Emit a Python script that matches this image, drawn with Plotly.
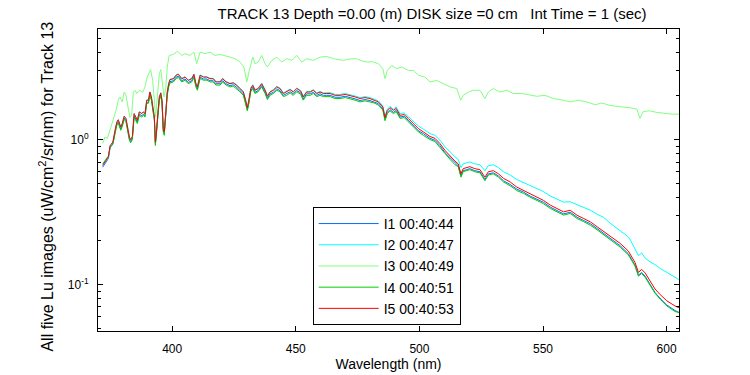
import plotly.graph_objects as go
import numpy as np

# Wavelength grid (nm) for I1, I2, I4, I5
wavelength = [371.9, 372.8, 374.2, 374.9, 376.0, 376.9, 377.6, 378.2, 379.2, 379.8,
              380.6, 381.3, 382.0, 382.7, 383.2, 383.9, 384.6, 385.4, 385.9, 386.7,
              387.7, 388.3, 389.0, 389.7, 390.4, 391.0, 391.6, 392.1, 392.8, 393.2,
              393.6, 394.2, 394.8, 395.4, 395.9, 396.4, 396.8, 397.5, 398.0, 398.6,
              399.1, 400.5, 401.6, 402.5, 403.9, 405.2, 406.5, 407.9, 408.8, 409.6,
              410.2, 411.3, 412.6, 414.0, 415.3, 416.6, 417.7, 419.4, 420.4, 421.8,
              423.4, 424.7, 426.1, 427.4, 428.8, 429.7, 430.4, 430.9, 431.8, 432.6,
              433.5, 434.8, 436.2, 437.6, 438.5, 439.6, 440.9, 442.3, 443.6, 445.0,
              446.3, 447.7, 449.0, 450.4, 452.0, 453.0, 454.4, 455.8, 457.1, 458.5,
              459.8, 461.2, 462.5, 463.9, 465.9, 467.9, 470.0, 471.9, 474.0, 476.0,
              478.0, 480.0, 481.7, 483.4, 485.2, 486.1, 487.0, 488.1, 489.5, 490.6,
              492.2, 493.8, 495.5, 497.6, 499.6, 501.6, 504.3, 506.3, 508.3, 510.4,
              512.4, 514.4, 515.7, 516.8, 517.7, 519.1, 520.4, 522.4, 524.5, 526.5,
              527.9, 529.9, 532.0, 534.0, 536.7, 539.4, 542.1, 544.8, 547.5, 550.2,
              552.9, 555.6, 558.3, 561.0, 563.8, 566.5, 569.2, 571.9, 574.6, 577.1,
              581.2, 584.5, 585.5, 587.2, 588.6, 589.9, 591.3, 593.3, 595.3, 597.4,
              600.1, 603.4, 605.0]

lu_i1 = [0.645, 0.68, 0.74, 0.88, 0.93, 1.12, 1.28, 1.33, 1.18, 1.25,
         1.41, 1.36, 1.15, 1.01, 0.97, 1.02, 1.46, 1.38, 1.32, 1.50,
         1.46, 1.50, 1.46, 1.81, 1.81, 2.07, 1.91, 1.67, 1.39, 0.93,
         1.07, 1.46, 1.91, 2.04, 1.81, 1.15, 1.10, 1.54, 2.07, 2.36,
         2.51, 2.55, 2.70, 2.74, 2.55, 2.62, 2.48, 2.55, 2.74, 2.36,
         2.24, 2.70, 2.62, 2.62, 2.55, 2.55, 2.43, 2.43, 2.55, 2.43,
         2.36, 2.39, 2.30, 2.18, 2.07, 1.81, 1.61, 1.77, 2.18, 2.30,
         2.12, 2.18, 2.36, 2.12, 1.93, 2.07, 2.12, 2.24, 2.18, 2.02,
         2.07, 2.14, 2.07, 2.18, 2.10, 1.91, 2.07, 2.07, 2.12, 2.02,
         2.07, 2.02, 2.02, 2.02, 1.96, 1.96, 1.99, 1.96, 1.91, 1.86,
         1.89, 1.86, 1.82, 1.77, 1.63, 1.38, 1.54, 1.61, 1.54, 1.59,
         1.43, 1.45, 1.36, 1.25, 1.15, 1.10, 1.02, 0.99, 0.91, 0.81,
         0.75, 0.69, 0.66, 0.56, 0.61, 0.62, 0.63, 0.61, 0.60, 0.53,
         0.58, 0.59, 0.56, 0.52, 0.49, 0.455, 0.434, 0.407, 0.388, 0.369,
         0.342, 0.324, 0.307, 0.315, 0.291, 0.276, 0.262, 0.243, 0.225, 0.208,
         0.185, 0.163, 0.152, 0.136, 0.116, 0.121, 0.114, 0.099, 0.088, 0.080,
         0.072, 0.066, 0.064]

lu_i2 = [0.66, 0.69, 0.75, 0.90, 0.96, 1.15, 1.31, 1.37, 1.22, 1.29,
         1.45, 1.40, 1.19, 1.04, 1.00, 1.05, 1.51, 1.43, 1.37, 1.56,
         1.52, 1.56, 1.52, 1.88, 1.88, 2.14, 1.98, 1.73, 1.44, 0.97,
         1.11, 1.52, 1.98, 2.11, 1.88, 1.20, 1.14, 1.60, 2.14, 2.45,
         2.61, 2.65, 2.80, 2.84, 2.65, 2.72, 2.58, 2.65, 2.84, 2.45,
         2.33, 2.80, 2.72, 2.72, 2.65, 2.65, 2.52, 2.52, 2.65, 2.52,
         2.45, 2.48, 2.39, 2.27, 2.15, 1.89, 1.68, 1.84, 2.27, 2.39,
         2.21, 2.27, 2.45, 2.21, 2.01, 2.15, 2.21, 2.33, 2.27, 2.10,
         2.15, 2.23, 2.15, 2.27, 2.18, 1.99, 2.15, 2.15, 2.21, 2.10,
         2.15, 2.10, 2.11, 2.11, 2.05, 2.05, 2.08, 2.05, 2.00, 1.95,
         1.98, 1.95, 1.91, 1.85, 1.71, 1.45, 1.62, 1.69, 1.62, 1.68,
         1.51, 1.53, 1.44, 1.33, 1.24, 1.18, 1.10, 1.07, 0.99, 0.89,
         0.82, 0.76, 0.73, 0.64, 0.68, 0.69, 0.70, 0.68, 0.67, 0.61,
         0.66, 0.67, 0.64, 0.60, 0.57, 0.53, 0.505, 0.478, 0.458, 0.437,
         0.408, 0.388, 0.370, 0.372, 0.355, 0.340, 0.325, 0.305, 0.29, 0.265,
         0.235, 0.213, 0.20, 0.175, 0.158, 0.165, 0.152, 0.143, 0.137, 0.129,
         0.121, 0.113, 0.108]

lu_i4 = [0.68, 0.72, 0.77, 0.89, 0.93, 1.10, 1.25, 1.30, 1.16, 1.23,
         1.38, 1.33, 1.13, 0.99, 0.95, 1.00, 1.43, 1.35, 1.29, 1.47,
         1.43, 1.47, 1.43, 1.78, 1.78, 2.02, 1.87, 1.63, 1.36, 0.91,
         1.05, 1.43, 1.87, 2.00, 1.78, 1.13, 1.07, 1.51, 2.02, 2.31,
         2.46, 2.50, 2.64, 2.68, 2.50, 2.57, 2.43, 2.50, 2.68, 2.31,
         2.19, 2.64, 2.57, 2.57, 2.50, 2.50, 2.38, 2.38, 2.50, 2.38,
         2.31, 2.34, 2.25, 2.14, 2.02, 1.78, 1.58, 1.73, 2.14, 2.25,
         2.08, 2.14, 2.31, 2.08, 1.89, 2.02, 2.08, 2.19, 2.14, 1.98,
         2.02, 2.10, 2.02, 2.14, 2.05, 1.87, 2.02, 2.02, 2.08, 1.98,
         2.02, 1.98, 1.98, 1.98, 1.92, 1.92, 1.95, 1.92, 1.87, 1.82,
         1.85, 1.82, 1.79, 1.73, 1.60, 1.35, 1.51, 1.58, 1.51, 1.56,
         1.40, 1.42, 1.33, 1.23, 1.13, 1.07, 1.00, 0.97, 0.89, 0.80,
         0.73, 0.67, 0.65, 0.55, 0.60, 0.61, 0.62, 0.60, 0.59, 0.52,
         0.57, 0.58, 0.55, 0.51, 0.48, 0.445, 0.425, 0.40, 0.38, 0.361,
         0.335, 0.317, 0.301, 0.309, 0.285, 0.271, 0.256, 0.238, 0.220, 0.204,
         0.181, 0.160, 0.149, 0.134, 0.114, 0.119, 0.112, 0.098, 0.087, 0.079,
         0.071, 0.065, 0.064]

lu_i5 = [0.665, 0.70, 0.76, 0.91, 0.96, 1.16, 1.32, 1.37, 1.22, 1.29,
         1.45, 1.40, 1.19, 1.04, 1.00, 1.05, 1.51, 1.42, 1.36, 1.55,
         1.51, 1.55, 1.51, 1.87, 1.87, 2.13, 1.97, 1.72, 1.43, 0.96,
         1.10, 1.51, 1.97, 2.10, 1.87, 1.19, 1.13, 1.59, 2.13, 2.43,
         2.59, 2.63, 2.78, 2.82, 2.63, 2.70, 2.56, 2.63, 2.82, 2.43,
         2.31, 2.78, 2.70, 2.70, 2.63, 2.63, 2.50, 2.50, 2.63, 2.50,
         2.43, 2.46, 2.37, 2.25, 2.13, 1.87, 1.66, 1.82, 2.25, 2.37,
         2.19, 2.25, 2.43, 2.19, 1.99, 2.13, 2.19, 2.31, 2.25, 2.08,
         2.13, 2.21, 2.13, 2.25, 2.16, 1.97, 2.13, 2.13, 2.19, 2.08,
         2.13, 2.08, 2.08, 2.08, 2.02, 2.02, 2.05, 2.02, 1.97, 1.92,
         1.95, 1.92, 1.88, 1.82, 1.68, 1.42, 1.59, 1.66, 1.59, 1.64,
         1.47, 1.49, 1.40, 1.29, 1.19, 1.13, 1.05, 1.02, 0.94, 0.84,
         0.77, 0.71, 0.68, 0.58, 0.63, 0.64, 0.65, 0.63, 0.62, 0.55,
         0.60, 0.61, 0.58, 0.54, 0.51, 0.47, 0.447, 0.42, 0.40, 0.38,
         0.353, 0.334, 0.317, 0.325, 0.30, 0.285, 0.27, 0.25, 0.232, 0.215,
         0.192, 0.170, 0.158, 0.142, 0.121, 0.127, 0.120, 0.105, 0.093, 0.085,
         0.077, 0.071, 0.069]

# I3 has its own sampling
wavelength_i3 = [371.9, 372.8, 373.8, 374.9, 376.2, 377.3, 378.2, 378.9, 379.8, 380.6,
                 381.3, 382.3, 382.9, 383.6, 384.3, 385.0, 385.7, 386.7, 388.1, 389.0,
                 389.9, 391.3, 392.1, 392.8, 393.3, 394.0, 394.8, 395.4, 396.0, 396.7,
                 397.4, 398.0, 398.8, 400.5, 402.1, 403.9, 405.2, 407.2, 408.8, 409.9,
                 411.3, 413.3, 415.3, 417.3, 419.4, 421.4, 423.4, 425.4, 427.4, 429.0,
                 430.2, 431.2, 432.6, 433.5, 434.8, 436.2, 437.6, 438.5, 440.3, 442.3,
                 444.3, 446.3, 448.4, 450.4, 452.4, 454.4, 457.1, 459.8, 462.5, 465.2,
                 467.2, 469.2, 471.5, 474.6, 476.5, 478.7, 481.0, 483.4, 485.2, 486.1,
                 487.0, 488.8, 490.8, 492.9, 495.5, 497.6, 499.6, 502.3, 504.3, 507.0,
                 509.7, 512.4, 515.1, 516.7, 517.7, 519.8, 521.8, 524.5, 526.5, 527.9,
                 529.9, 532.6, 535.3, 538.0, 541.4, 544.8, 547.5, 550.8, 554.2, 558.3,
                 561.0, 564.3, 567.7, 571.1, 573.8, 577.1, 580.5, 583.5, 586.0, 588.0,
                 589.2, 590.5, 593.0, 596.0, 599.0, 602.0, 605.0]
lu_i3 = [0.94, 1.04, 1.02, 1.16, 1.36, 1.59, 1.87, 1.97, 1.82, 2.13,
         2.02, 1.64, 1.42, 1.47, 2.13, 2.19, 2.08, 2.19, 2.13, 2.31,
         2.70, 3.04, 2.56, 1.87, 1.43, 1.97, 2.85, 3.04, 2.56, 1.97,
         2.25, 3.17, 3.81, 3.87, 4.08, 3.81, 3.92, 3.81, 4.02, 3.34,
         4.02, 3.92, 4.02, 3.81, 3.87, 3.81, 3.71, 3.62, 3.43, 3.17,
         2.50, 3.00, 3.71, 3.34, 3.43, 3.81, 3.34, 3.17, 3.52, 3.71,
         3.43, 3.62, 3.52, 3.81, 3.43, 3.62, 3.52, 3.71, 3.75, 3.62,
         3.56, 3.52, 3.60, 3.62, 3.50, 3.43, 3.45, 3.34, 3.09, 2.63,
         3.00, 3.25, 3.09, 3.17, 3.00, 3.00, 2.78, 2.70, 2.50, 2.56,
         2.43, 2.31, 2.25, 1.87, 2.02, 2.13, 2.19, 2.19, 1.92, 2.13,
         2.25, 2.13, 2.19, 2.08, 2.08, 2.02, 1.99, 2.02, 1.92, 1.87,
         1.82, 1.87, 1.82, 1.74, 1.79, 1.72, 1.70, 1.67, 1.65, 1.62,
         1.40, 1.56, 1.58, 1.54, 1.52, 1.50, 1.50]

labels = ["I1 00:40:44", "I2 00:40:47", "I3 00:40:49", "I4 00:40:51", "I5 00:40:53"]
colors = ["#0070ff", "#00ffff", "#80ff80", "#00cc00", "#ff0000"]

y_major = [1, 0.1]
y_major_text = ["10<sup>0</sup>", "10<sup>-1</sup>"]
y_minor = [0.05, 0.06, 0.07, 0.08, 0.09, 0.2, 0.3, 0.4, 0.5, 0.6, 0.7, 0.8, 0.9, 2, 3, 4, 5]
x_ticks = [400, 450, 500, 550, 600]

FONT = "Liberation Sans, Arial, sans-serif"

series = [(wavelength, lu_i1), (wavelength, lu_i2), (wavelength_i3, lu_i3),
          (wavelength, lu_i4), (wavelength, lu_i5)]

fig = go.Figure()
for (wl, vals), name, col in zip(series, labels, colors):
    fig.add_trace(go.Scatter(x=wl, y=vals, mode="lines", name=name,
                             line=dict(color=col, width=1)))

fig.update_layout(
    width=750, height=375,
    margin=dict(l=98, r=71, t=29, b=44, autoexpand=False),
    paper_bgcolor="white", plot_bgcolor="white",
    font=dict(family=FONT, size=12, color="black"),
    title=dict(text="TRACK 13 Depth =0.00 (m) DISK size =0 cm&nbsp;&nbsp; Int Time = 1 (sec)",
               x=0.575, xref="paper", y=1 - 13.5 / 375, yref="container",
               xanchor="center", yanchor="middle",
               font=dict(family=FONT, size=15, color="black")),
    showlegend=True,
    legend=dict(x=0.3695, y=0.02, xanchor="left", yanchor="bottom",
                bgcolor="white", bordercolor="black", borderwidth=1,
                font=dict(family=FONT, size=14, color="black"),
                itemwidth=60, tracegroupgap=0),
)

fig.update_xaxes(
    range=[370, 605], tickmode="array", tickvals=x_ticks,
    ticks="inside", ticklen=5, tickcolor="black", tickwidth=1,
    showline=True, linecolor="black", linewidth=1, mirror="allticks",
    showgrid=False, zeroline=False, ticklabelstandoff=7,
    tickfont=dict(family=FONT, size=12, color="black"),
    title=dict(text="Wavelength (nm)", font=dict(family=FONT, size=14, color="black"), standoff=2),
)
fig.update_yaxes(
    type="log", range=[np.log10(0.0477), np.log10(5.8)],
    tickmode="array", tickvals=y_major, ticktext=y_major_text,
    ticks="inside", ticklen=5, tickcolor="black", tickwidth=1,
    minor=dict(tickmode="array", tickvals=y_minor, ticks="inside", ticklen=3,
               tickcolor="black", showgrid=False),
    showline=True, linecolor="black", linewidth=1, mirror="allticks",
    showgrid=False, zeroline=False, ticklabelstandoff=6,
    tickfont=dict(family=FONT, size=12, color="black"),
    title=dict(text="All five Lu images (uW/cm<sup>2</sup>/sr/nm) for Track 13&nbsp;&nbsp;&nbsp;",
               font=dict(family=FONT, size=16, color="black"), standoff=10),
)

fig.write_html("out.html", config={"displayModeBar": False},
               post_script="document.body.style.margin='0';document.body.style.padding='0';")
